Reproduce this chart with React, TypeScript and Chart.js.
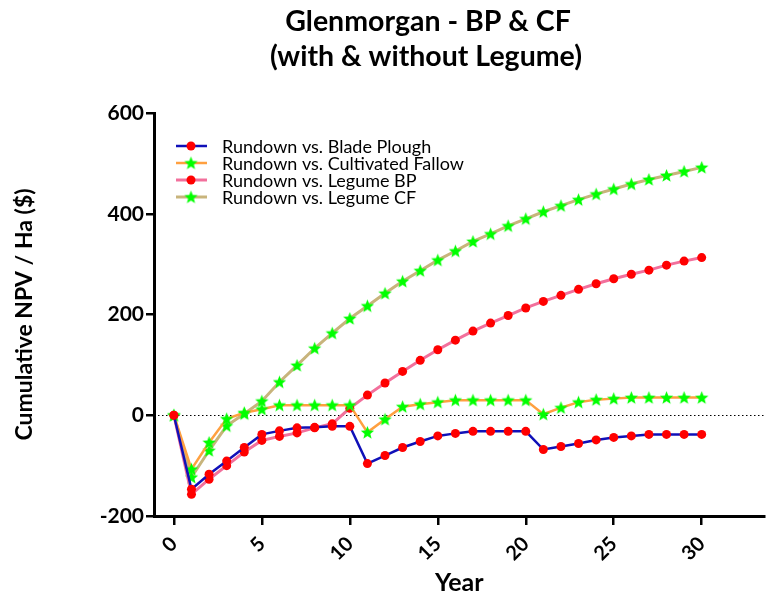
import React, { useEffect, useRef } from "react";
import { Chart, registerables } from "chart.js";

Chart.register(...registerables);

const years = Array.from({ length: 31 }, (_, i) => i);
const xTickValues = [0, 5, 10, 15, 20, 25, 30];
const yTickValues = [-200, 0, 200, 400, 600];

const seriesNames = [
  "Rundown vs. Blade Plough",
  "Rundown vs. Cultivated Fallow",
  "Rundown vs. Legume BP",
  "Rundown vs. Legume CF",
];

const bladePlough = [0, -147, -117, -91, -64, -38, -31, -25, -24, -22, -22, -96, -80, -64, -52, -41, -36, -32, -32, -32, -32, -68, -62, -56, -49, -44, -41, -38, -38, -38, -38];
const cultivatedFallow = [0, -107, -54, -7, 5, 12, 20, 20, 20, 20, 20, -34, -8, 17, 22, 26, 30, 30, 30, 30, 30, 2, 15, 26, 31, 33, 35, 35, 35, 35, 35];
const legumeBP = [0, -157, -127, -100, -73, -50, -42, -35, -25, -17, 14, 40, 64, 87, 109, 130, 149, 167, 183, 198, 213, 226, 238, 250, 261, 271, 280, 288, 298, 306, 313];
const legumeCF = [0, -123, -70, -21, 3, 28, 66, 99, 133, 163, 192, 217, 242, 266, 287, 308, 326, 345, 360, 376, 390, 404, 416, 428, 439, 449, 459, 468, 476, 484, 492];

const FONT = "Lato, 'Open Sans', sans-serif";

function makeStar(): HTMLCanvasElement {
  const c = document.createElement("canvas");
  const s = 15;
  c.width = s;
  c.height = s;
  const ctx = c.getContext("2d")!;
  const cx = s / 2, cy = s / 2 + 0.5, R = 7, r = 3;
  ctx.beginPath();
  for (let i = 0; i < 10; i++) {
    const rad = i % 2 === 0 ? R : r;
    const a = -Math.PI / 2 + (i * Math.PI) / 5;
    const px = cx + rad * Math.cos(a);
    const py = cy + rad * Math.sin(a);
    if (i === 0) ctx.moveTo(px, py);
    else ctx.lineTo(px, py);
  }
  ctx.closePath();
  ctx.fillStyle = "#00FF00";
  ctx.fill();
  return c;
}

export default function App() {
  const ref = useRef<HTMLCanvasElement | null>(null);

  useEffect(() => {
    document.body.style.margin = "0";
    const star = makeStar();
    const toPts = (arr: number[]) => arr.map((v, i) => ({ x: years[i], y: v }));

    const lineColors = ["#1010B8", "#FFA040", "#F2709C", "#C8B47C"];
    const widths = [2.5, 2.5, 3, 3];
    const markers: any[] = ["circle", star, "circle", star];
    const values = [bladePlough, cultivatedFallow, legumeBP, legumeCF];

    const datasets = values.map((arr, i) => ({
      label: seriesNames[i],
      data: toPts(arr),
      borderColor: lineColors[i],
      borderWidth: widths[i],
      backgroundColor: "#FF0000",
      pointBackgroundColor: "#FF0000",
      pointBorderColor: "#FF0000",
      pointBorderWidth: 0,
      pointStyle: markers[i],
      pointRadius: 4.5,
      tension: 0,
      fill: false,
    }));

    const overlay = {
      id: "overlay",
      beforeDatasetsDraw(chart: any) {
        const { ctx, chartArea, scales } = chart;
        const y0 = Math.round(scales.y.getPixelForValue(0)) + 0.5;
        ctx.save();
        ctx.strokeStyle = "#000";
        ctx.lineWidth = 1;
        ctx.setLineDash([1.5, 2.5]);
        ctx.beginPath();
        ctx.moveTo(chartArea.left, y0);
        ctx.lineTo(chartArea.right, y0);
        ctx.stroke();
        ctx.restore();
      },
      afterDraw(chart: any) {
        const { ctx } = chart;
        ctx.save();
        // title
        ctx.fillStyle = "#000";
        ctx.textAlign = "center";
        ctx.textBaseline = "alphabetic";
        ctx.font = `bold 28.5px ${FONT}`;
        ctx.fillText("Glenmorgan - BP & CF", 428, 31);
        ctx.fillText("(with & without Legume)", 426, 66);
        // legend
        ctx.font = `18px ${FONT}`;
        ctx.textAlign = "left";
        ctx.textBaseline = "middle";
        const rows = [146, 163, 180, 197];
        chart.data.datasets.forEach((ds: any, i: number) => {
          const y = rows[i];
          ctx.strokeStyle = ds.borderColor;
          ctx.lineWidth = ds.borderWidth;
          ctx.setLineDash([]);
          ctx.beginPath();
          ctx.moveTo(176, y);
          ctx.lineTo(207, y);
          ctx.stroke();
          if (typeof ds.pointStyle === "string") {
            ctx.fillStyle = "#FF0000";
            ctx.beginPath();
            ctx.arc(191, y, 4.5, 0, Math.PI * 2);
            ctx.fill();
          } else {
            const img = ds.pointStyle as HTMLCanvasElement;
            ctx.drawImage(img, 191 - img.width / 2, y - img.height / 2);
          }
          ctx.fillStyle = "#000";
          ctx.fillText(ds.label, 222, y + 1);
        });
        ctx.restore();
      },
    };

    const chart = new Chart(ref.current!, {
      type: "line",
      data: { datasets },
      plugins: [overlay],
      options: {
        animation: false,
        responsive: false,
        layout: { padding: { top: 113, right: 0, left: 0, bottom: 0 } },
        plugins: {
          legend: { display: false },
          title: { display: false },
          tooltip: { enabled: false },
        },
        scales: {
          x: {
            type: "linear",
            min: -1.13,
            max: 33.57,
            afterBuildTicks: (scale: any) => {
              scale.ticks = xTickValues.map((v) => ({ value: v }));
            },
            afterFit: (scale: any) => {
              scale.height = 86;
            },
            grid: {
              drawOnChartArea: false,
              drawTicks: true,
              tickLength: 9,
              color: "#000",
              lineWidth: 2.5,
            },
            border: { display: true, color: "#000", width: 3 },
            ticks: {
              color: "#000",
              font: { family: FONT, size: 20, weight: "bold" },
              minRotation: 45,
              maxRotation: 45,
              padding: 7,
              autoSkip: false,
            },
            title: {
              display: true,
              text: "Year",
              color: "#000",
              font: { family: FONT, size: 25, weight: "bold" },
              padding: { top: 0, bottom: 4 },
            },
          },
          y: {
            type: "linear",
            min: -200,
            max: 600,
            afterBuildTicks: (scale: any) => {
              scale.ticks = yTickValues.map((v) => ({ value: v }));
            },
            afterFit: (scale: any) => {
              scale.width = 154;
            },
            grid: {
              drawOnChartArea: false,
              drawTicks: true,
              tickLength: 8,
              color: "#000",
              lineWidth: 2.5,
            },
            border: { display: true, color: "#000", width: 3 },
            ticks: {
              color: "#000",
              font: { family: FONT, size: 21, weight: "bold" },
              padding: 2,
            },
            title: {
              display: true,
              text: "Cumulative NPV / Ha ($)",
              color: "#000",
              font: { family: FONT, size: 23, weight: "bold" },
              padding: { top: 11, bottom: 0 },
            },
          },
        },
      },
    });
    return () => chart.destroy();
  }, []);

  return (
    <div style={{ position: "relative", width: 769, height: 602 }}>
      <canvas ref={ref} width={769} height={602} style={{ display: "block", width: 769, height: 602 }} />
    </div>
  );
}
